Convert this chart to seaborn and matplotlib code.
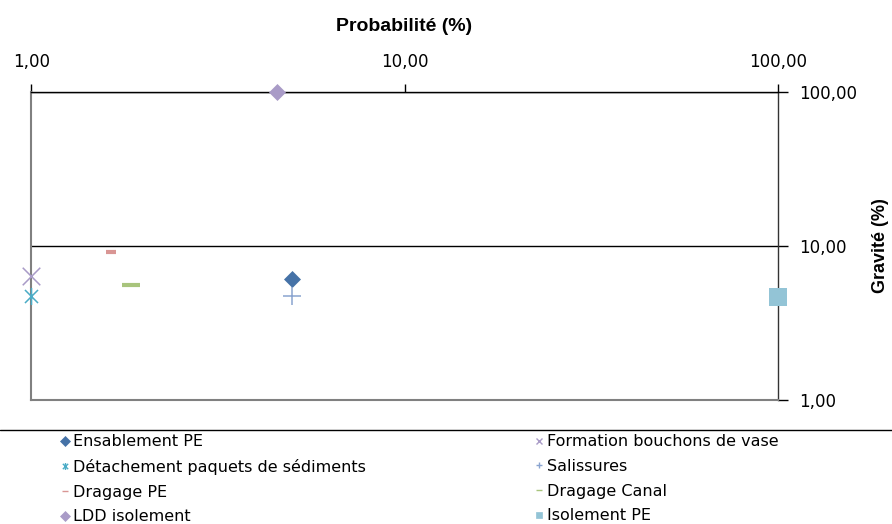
import matplotlib
matplotlib.use("Agg")
import matplotlib.pyplot as plt
from matplotlib.ticker import FixedLocator, FuncFormatter, NullLocator
from matplotlib.lines import Line2D
from matplotlib.path import Path
import seaborn as sns

sns.set_style("white")
plt.rcParams['font.family'] = ['DejaVu Sans']
plt.rcParams['text.color'] = 'black'
plt.rcParams['xtick.color'] = 'black'
plt.rcParams['ytick.color'] = 'black'
plt.rcParams['axes.labelcolor'] = 'black'

# Marqueur "étoile" d'Excel : une croix + un trait vertical
etoile = Path([(-1, -1), (1, 1), (-1, 1), (1, -1), (0, -1.3), (0, 1.3)],
              [Path.MOVETO, Path.LINETO, Path.MOVETO, Path.LINETO, Path.MOVETO, Path.LINETO])

# Données (probabilité %, gravité %)
series_names = ["Ensablement PE", "Détachement paquets de sédiments", "Dragage PE",
                "LDD isolement", "Formation bouchons de vase", "Salissures",
                "Dragage Canal", "Isolement PE"]
probabilite = [5.0, 1.0, 1.64, 4.56, 1.0, 5.0, 1.85, 100.0]
gravite = [6.1, 4.7, 9.15, 100.0, 6.4, 4.75, 5.55, 4.65]
colors = ["#4572A7", "#4BACC6", "#D99694", "#A99BC7", "#A99BC7", "#8AA4D0",
          "#A8C47C", "#93C4D6"]
markers = ["D", etoile, "_", "D", "x", "+", "_", "s"]
sizes = [75, 150, 42, 75, 160, 170, 150, 150]
lw = [0, 1.1, 3, 0, 1.1, 1.1, 3, 0]

x_ticks = [1, 10, 100]
y_ticks = [1, 10, 100]

fig = plt.figure(figsize=(8.92, 5.24), dpi=100)
ax = fig.add_axes([0.035, 0.237, 0.837, 0.587])

handles = []
for i, name in enumerate(series_names):
    sns.scatterplot(x=[probabilite[i]], y=[gravite[i]], ax=ax, marker=markers[i],
                    color=colors[i], s=sizes[i], linewidth=lw[i],
                    edgecolor=colors[i] if lw[i] == 0 else None,
                    clip_on=False, zorder=5, legend=False)
    handles.append(Line2D([], [], linestyle='none', marker=markers[i], color=colors[i],
                          markersize=5, markeredgewidth=1 if lw[i] else 0.5, label=name))

ax.set_xscale('log')
ax.set_yscale('log')
ax.set_xlim(1, 100)
ax.set_ylim(1, 100)

fmt = FuncFormatter(lambda v, p: f"{v:.2f}".replace('.', ','))
ax.xaxis.set_major_locator(FixedLocator(x_ticks))
ax.yaxis.set_major_locator(FixedLocator(y_ticks))
ax.xaxis.set_minor_locator(NullLocator())
ax.yaxis.set_minor_locator(NullLocator())
ax.xaxis.set_major_formatter(fmt)
ax.yaxis.set_major_formatter(fmt)

ax.xaxis.tick_top()
ax.xaxis.set_label_position('top')
ax.yaxis.tick_right()
ax.yaxis.set_label_position('right')
ax.tick_params(axis='x', direction='out', length=6, width=1, color='black',
               labelsize=12, pad=9)
ax.tick_params(axis='y', direction='out', length=7, width=1, color='black',
               labelsize=12, pad=8)

ax.yaxis.grid(True, color='black', linewidth=1)
ax.xaxis.grid(False)

for side in ('left', 'bottom'):
    ax.spines[side].set_color('#808080')
    ax.spines[side].set_linewidth(1.5)
ax.spines['top'].set_color('black')
ax.spines['right'].set_color('#333333')
ax.spines['top'].set_linewidth(1)
ax.spines['right'].set_linewidth(1)

ax.set_xlabel("Probabilité (%)", fontsize=14, fontweight='bold', labelpad=16,
              family='Liberation Sans')
ax.set_ylabel("Gravité (%)", fontsize=13, fontweight='bold', labelpad=11,
              family='Liberation Sans')

# Légende en deux colonnes sous le graphique
fig.add_artist(Line2D([0, 1], [1 - 430 / 524, 1 - 430 / 524], color='black', linewidth=1))
leg_kw = dict(frameon=False, fontsize=11.5, handlelength=0.6, handletextpad=0.2,
              labelspacing=0.6, borderaxespad=0, loc='upper left')
fig.legend(handles=handles[:4], bbox_to_anchor=(0.06, 0.183), **leg_kw)
fig.legend(handles=handles[4:], bbox_to_anchor=(0.592, 0.183), **leg_kw)

fig.savefig("out.png", dpi=100)
plt.close(fig)
